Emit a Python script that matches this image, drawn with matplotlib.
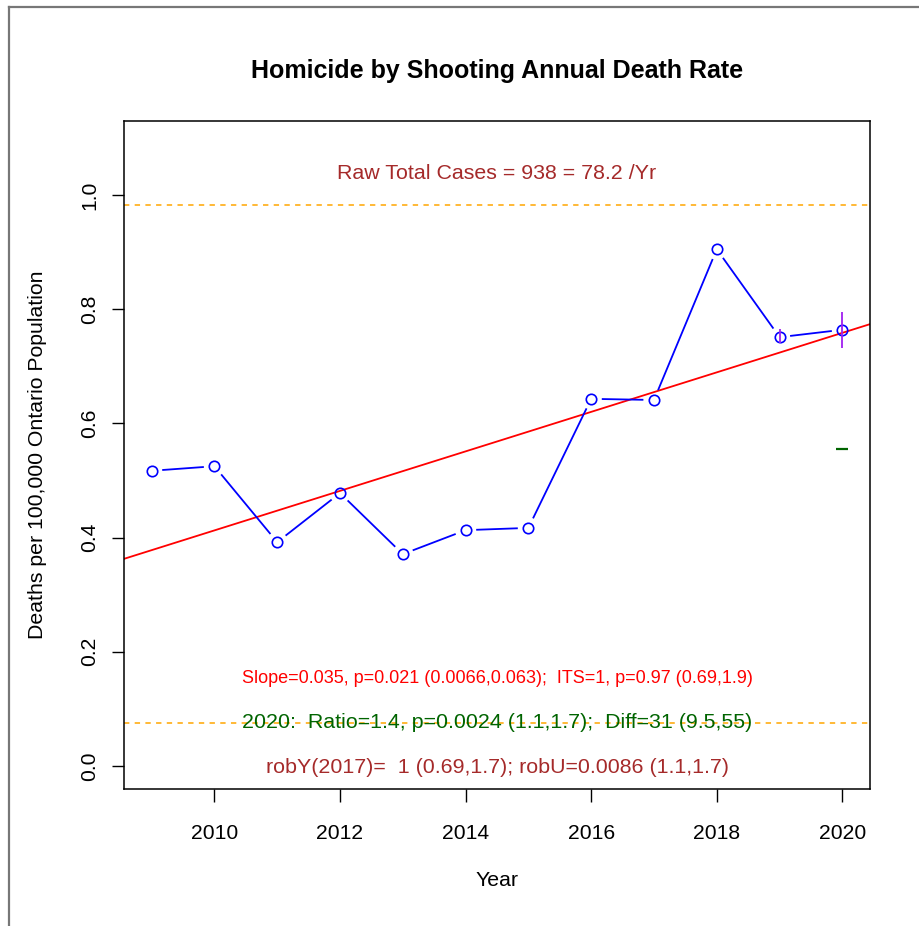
import numpy as np
import matplotlib
matplotlib.use("Agg")
import matplotlib.pyplot as plt
from matplotlib.lines import Line2D

plt.rcParams['font.family'] = ['Liberation Sans', 'DejaVu Sans']

# Data
years = [2009, 2010, 2011, 2012, 2013, 2014, 2015, 2016, 2017, 2018, 2019, 2020]
rates = [0.517, 0.525, 0.392, 0.478, 0.371, 0.413, 0.417, 0.643, 0.641, 0.905, 0.751, 0.764]
trend_at_2009 = 0.378
trend_slope = 0.0346
ref_levels = [0.982, 0.0753]
ci_years = [2019, 2020]
ci_low = [0.740, 0.732]
ci_high = [0.766, 0.795]
expected_2020 = 0.555
xticks = [2010, 2012, 2014, 2016, 2018, 2020]
yticks = [0.0, 0.2, 0.4, 0.6, 0.8, 1.0]

title = "Homicide by Shooting Annual Death Rate"
raw_text = "Raw Total Cases = 938 = 78.2 /Yr"
slope_text = "Slope=0.035, p=0.021 (0.0066,0.063);  ITS=1, p=0.97 (0.69,1.9)"
ratio_text = "2020:  Ratio=1.4, p=0.0024 (1.1,1.7);  Diff=31 (9.5,55)"
rob_text = "robY(2017)=  1 (0.69,1.7); robU=0.0086 (1.1,1.7)"

W, H = 920, 926
fig = plt.figure(figsize=(W / 100, H / 100), dpi=100)
ax = fig.add_axes([124 / W, 1 - 789 / H, (870 - 124) / W, (789 - 121) / H])

xlo, xhi = 2008.56, 2020.44
ylo, yhi = -0.0403, 1.1296
ax.set_xlim(xlo, xhi)
ax.set_ylim(ylo, yhi)

# grey frame around the device (top and left edges visible)
fig.add_artist(Line2D([8.5 / W, 8.5 / W], [0, 1 - 6.5 / H], transform=fig.transFigure, color="#777777", lw=1.6))
fig.add_artist(Line2D([8.5 / W, 1], [1 - 6.5 / H, 1 - 6.5 / H], transform=fig.transFigure, color="#777777", lw=1.6))

# reference lines
for lv in ref_levels:
    ax.axhline(lv, color="orange", lw=1.1, ls=(0, (3.5, 3.5)), zorder=1)

# regression line across the whole panel
tx = np.array([xlo, xhi])
ax.plot(tx, trend_at_2009 + trend_slope * (tx - 2009), color="red", lw=1.3, zorder=2)

# points with gaps in connecting lines (R type="b")
pts = ax.transData.transform(np.column_stack([years, rates]))
gap = 11.5
for i in range(len(pts) - 1):
    p0, p1 = pts[i], pts[i + 1]
    d = p1 - p0
    L = np.hypot(*d)
    if L <= 2 * gap:
        continue
    u = d / L
    seg = ax.transData.inverted().transform(np.array([p0 + u * gap, p1 - u * gap]))
    ax.plot(seg[:, 0], seg[:, 1], color="blue", lw=1.3, zorder=3)
ax.plot(years, rates, ls="none", marker="o", ms=7.5, mfc="none", mec="blue", mew=1.2, zorder=4)

# interval marks
ax.vlines(ci_years, ci_low, ci_high, color="#A020F0", lw=1.3, zorder=5)
ax.plot([years[-1]], [expected_2020], ls="none", marker="_", ms=8, mew=1.6, color="darkgreen")

# annotations
xc = (xlo + xhi) / 2
ax.text(xc, 1.037, raw_text, color="#A52A2A", fontsize=15.4, ha="center", va="center")
ax.text(xc, 0.153, slope_text, color="red", fontsize=13, ha="center", va="center")
ax.text(xc, 0.077, ratio_text, color="darkgreen", fontsize=15.4, ha="center", va="center")
ax.text(xc, -0.003, rob_text, color="#A52A2A", fontsize=15.4, ha="center", va="center")

ax.set_xticks(xticks)
ax.set_xticklabels([str(x) for x in xticks])
ax.set_yticks(yticks)
ax.set_yticklabels([f"{v:.1f}" for v in yticks], rotation=90, va="center")
ax.tick_params(direction="out", length=9, width=1, labelsize=15.2)
ax.tick_params(axis="x", pad=16)
ax.tick_params(axis="y", pad=9)
for s in ax.spines.values():
    s.set_linewidth(1.1)

ax.set_title(title, fontsize=18, fontweight="bold", pad=31)
ax.set_xlabel("Year", fontsize=15.3, labelpad=20)
ax.set_ylabel("Deaths per 100,000 Ontario Population", fontsize=15.3, labelpad=24)

fig.savefig("out.png", dpi=100)
